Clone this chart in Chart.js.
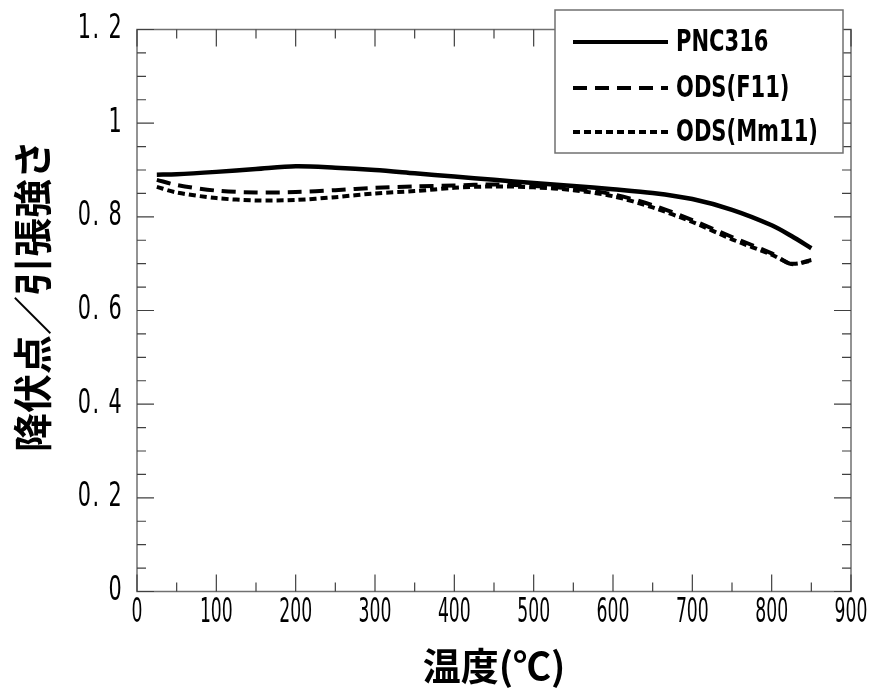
<!DOCTYPE html>
<html>
<head>
<meta charset="utf-8">
<script src="https://cdn.jsdelivr.net/npm/chart.js@4.4.0/dist/chart.umd.min.js"></script>
<style>
  html, body { margin: 0; padding: 0; background: #fff; }
</style>
</head>
<body>
<canvas id="chart" width="879" height="693"></canvas>
<script>
// --- data ---
const temps = [25, 50, 100, 150, 200, 250, 300, 350, 400, 450, 500, 550, 600, 650, 700, 750, 800, 825, 850];
const pnc316 = [0.890, 0.891, 0.896, 0.902, 0.908, 0.905, 0.900, 0.893, 0.886, 0.879, 0.872, 0.866, 0.859, 0.851, 0.838, 0.815, 0.782, 0.759, 0.733];
const odsF11 = [0.879, 0.868, 0.856, 0.852, 0.853, 0.857, 0.862, 0.865, 0.867, 0.869, 0.866, 0.860, 0.848, 0.825, 0.793, 0.757, 0.722, 0.699, 0.708];
const odsMm11 = [0.864, 0.852, 0.840, 0.835, 0.836, 0.842, 0.850, 0.855, 0.862, 0.865, 0.863, 0.857, 0.844, 0.820, 0.789, 0.752, 0.719, 0.700, 0.706];
const seriesNames = ['PNC316', 'ODS(F11)', 'ODS(Mm11)'];
const yTickLabels = ['0', '0. 2', '0. 4', '0. 6', '0. 8', '1', '1. 2'];
const xTickLabels = ['0', '100', '200', '300', '400', '500', '600', '700', '800', '900'];
const xTitle = '温度(℃)';
const yTitle = '降伏点／引張強さ';

const narrow = "'DejaVu Sans Condensed', 'Liberation Sans Narrow', 'Noto Sans', sans-serif";
const cjk = "'Noto Sans CJK JP', 'Noto Sans', sans-serif";

const toPoints = vals => temps.map((t, i) => ({ x: t, y: vals[i] }));

// squeezed text, the reference uses a tall narrow face
function narrowText(ctx, text, x, y, sx) {
    ctx.save();
    ctx.translate(x, y);
    ctx.scale(sx, 1);
    ctx.fillText(text, 0, 0);
    ctx.restore();
}

// frame, inward ticks on all four sides, tick labels, y title
const framePlugin = {
    id: 'frame',
    afterDatasetsDraw(chart) {
        const { ctx, chartArea: a, scales: { x, y } } = chart;
        ctx.save();
        ctx.strokeStyle = '#707070';
        ctx.lineWidth = 1.5;
        ctx.strokeRect(a.left, a.top, a.right - a.left, a.bottom - a.top);
        ctx.strokeStyle = '#404040';
        ctx.lineWidth = 1.2;
        ctx.beginPath();
        for (let v = 0; v <= 900; v += 50) {
            const px = x.getPixelForValue(v);
            const len = v % 100 === 0 ? 17 : 9;
            ctx.moveTo(px, a.bottom); ctx.lineTo(px, a.bottom - len);
            ctx.moveTo(px, a.top); ctx.lineTo(px, a.top + len);
        }
        for (let k = 0; k <= 24; k++) {
            const py = y.getPixelForValue(k * 0.05);
            const len = k % 4 === 0 ? 17 : 9;
            ctx.moveTo(a.left, py); ctx.lineTo(a.left + len, py);
            ctx.moveTo(a.right, py); ctx.lineTo(a.right - len, py);
        }
        ctx.stroke();

        ctx.fillStyle = '#000';
        ctx.font = '33px ' + narrow;
        ctx.textBaseline = 'middle';
        ctx.textAlign = 'center';
        x.ticks.forEach((t, i) => narrowText(ctx, xTickLabels[i], x.getPixelForValue(t.value), a.bottom + 22, 0.58));
        ctx.textAlign = 'right';
        ctx.letterSpacing = '2px';
        y.ticks.forEach((t, i) => narrowText(ctx, yTickLabels[i], a.left - 14, y.getPixelForValue(t.value), 0.7));
        ctx.letterSpacing = '0px';

        ctx.save();
        ctx.font = 'bold 39px ' + cjk;
        ctx.textAlign = 'center';
        ctx.translate(32, 296);
        ctx.rotate(-Math.PI / 2);
        ctx.fillText(yTitle, 0, 0);
        ctx.restore();
        ctx.restore();
    }
};

// boxed legend drawn over the top right corner
const legendPlugin = {
    id: 'boxLegend',
    afterDraw(chart) {
        const { ctx } = chart;
        const box = { x: 555, y: 10, w: 288, h: 143 };
        const rows = [42, 88, 132];
        ctx.save();
        ctx.fillStyle = '#fff';
        ctx.fillRect(box.x, box.y, box.w, box.h);
        ctx.strokeStyle = '#707070';
        ctx.lineWidth = 1.5;
        ctx.strokeRect(box.x, box.y, box.w, box.h);
        chart.data.datasets.forEach((ds, i) => {
            ctx.strokeStyle = '#000';
            ctx.lineWidth = 4;
            ctx.setLineDash(ds.borderDash || []);
            ctx.beginPath();
            ctx.moveTo(573, rows[i]);
            ctx.lineTo(668, rows[i]);
            ctx.stroke();
            ctx.setLineDash([]);
            ctx.fillStyle = '#000';
            ctx.font = 'bold 30px ' + narrow;
            ctx.textBaseline = 'middle';
            ctx.textAlign = 'left';
            narrowText(ctx, ds.label, 676, rows[i] + 1, 0.78);
        });
        ctx.restore();
    }
};

new Chart(document.getElementById('chart'), {
    type: 'line',
    data: {
        datasets: [
            { label: seriesNames[0], data: toPoints(pnc316), borderColor: '#000', borderWidth: 4.5, borderDash: [] },
            { label: seriesNames[1], data: toPoints(odsF11), borderColor: '#000', borderWidth: 4, borderDash: [14, 8] },
            { label: seriesNames[2], data: toPoints(odsMm11), borderColor: '#000', borderWidth: 4, borderDash: [7, 4] }
        ]
    },
    options: {
        responsive: false,
        animation: false,
        devicePixelRatio: 1,
        layout: { padding: { top: 29.5, right: 28, left: 0, bottom: 0 } },
        elements: { point: { radius: 0 }, line: { tension: 0.3, fill: false } },
        plugins: { legend: { display: false }, tooltip: { enabled: false } },
        scales: {
            x: {
                type: 'linear', min: 0, max: 900,
                grid: { display: false, drawTicks: false },
                border: { display: false },
                ticks: { stepSize: 100, display: false },
                title: {
                    display: true, text: xTitle, color: '#000',
                    font: { family: cjk, size: 38, weight: 'bold' },
                    padding: { top: 6, bottom: 5 }
                },
                afterFit: s => { s.height = 101.5; }
            },
            y: {
                min: 0, max: 1.2,
                grid: { display: false, drawTicks: false },
                border: { display: false },
                ticks: { stepSize: 0.2, display: false },
                afterFit: s => { s.width = 137; }
            }
        }
    },
    plugins: [framePlugin, legendPlugin]
});
</script>
</body>
</html>
